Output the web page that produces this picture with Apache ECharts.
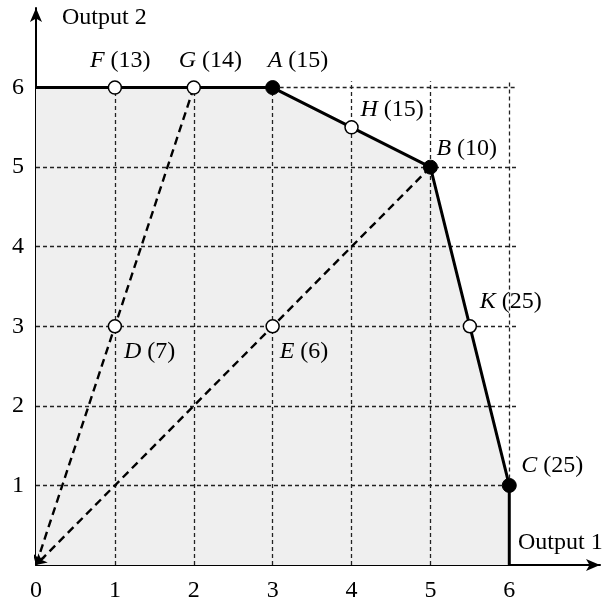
<!DOCTYPE html>
<html>
<head>
<meta charset="utf-8">
<script src="https://cdn.jsdelivr.net/npm/echarts@6/dist/echarts.min.js"></script>
<style>
  html, body { margin: 0; padding: 0; background: #fff; }
  #main { width: 605px; height: 606px; }
</style>
</head>
<body>
<div id="main"></div>
<script>
// frontier of the production set
var frontier = [[0, 6], [3, 6], [5, 5], [6, 1], [6, 0]];

// named points: letter, value in brackets, coordinates, efficient or not
var pointNames  = ['F', 'G', 'A', 'H', 'B', 'K', 'C', 'D', 'E'];
var pointValues = [13, 14, 15, 15, 10, 25, 25, 7, 6];
var pointX      = [1, 2, 3, 4, 5, 5.5, 6, 1, 3];
var pointY      = [6, 6, 6, 5.5, 5, 3, 1, 3, 3];
var pointFilled = [false, false, true, false, true, false, true, false, false];

// rays from the origin
var rays = [[2, 6], [5, 5]];

// tick labels
var xTicks = [0, 1, 2, 3, 4, 5, 6];
var yTicks = [1, 2, 3, 4, 5, 6];
var gridEnd = 6.08;

// label offsets (px) from point centre, left edge / vertical middle of the text
var labelOffsets = {
  F: [-25, -27], G: [-15, -27], A: [-5, -27],
  H: [9, -18], B: [6, -18], K: [10, -25],
  C: [12, -20], D: [9, 25], E: [7, 25]
};

var serif = '"Liberation Serif", "DejaVu Serif", serif';
var fs = 24;

// dashed grid lines, built from the tick lists
var gridLines = [];
xTicks.forEach(function (t) {
  if (t === 0) return;
  var y0 = (t === 6) ? 1 : 0;
  gridLines.push({ coords: [[t, y0], [t, gridEnd]] });
});
yTicks.forEach(function (t) {
  var x0 = (t === 6) ? 3 : 0;
  gridLines.push({ coords: [[x0, t], [gridEnd + 0.02, t]] });
});

var rayLines = rays.map(function (p) {
  return { coords: [p, [0, 0]] };
});

function pointData(filled) {
  var out = [];
  pointNames.forEach(function (n, i) {
    if (pointFilled[i] !== filled) return;
    out.push({
      value: [pointX[i], pointY[i]],
      name: n,
      label: { offset: labelOffsets[n] }
    });
  });
  return out;
}

function labelFmt(p) {
  return '{l|' + p.name + '} (' + pointValues[pointNames.indexOf(p.name)] + ')';
}

var pointLabel = {
  show: true,
  position: 'inside',
  align: 'left',
  verticalAlign: 'middle',
  formatter: labelFmt,
  fontFamily: serif,
  fontSize: fs,
  color: '#000',
  opacity: 1,
  rich: {
    l: { fontFamily: serif, fontStyle: 'italic', fontSize: fs, color: '#000' }
  }
};

var chart = echarts.init(document.getElementById('main'));
chart.setOption({
  animation: false,
  backgroundColor: '#fff',
  grid: { left: 36, right: 5, top: 8, bottom: 41, containLabel: false },
  xAxis: {
    type: 'value', min: 0, max: 7.15, interval: 1,
    axisLine: { show: true, lineStyle: { color: '#000', width: 2 },
      symbol: ['none', 'arrow'], symbolSize: [9, 14] },
    axisTick: { show: false },
    splitLine: { show: false },
    axisLabel: {
      margin: 14, color: '#000', fontFamily: serif, fontSize: fs,
      showMaxLabel: false,
      formatter: function (v) { return xTicks.indexOf(v) >= 0 ? String(v) : ''; }
    }
  },
  yAxis: {
    type: 'value', min: 0, max: 7, interval: 1,
    axisLine: { show: true, lineStyle: { color: '#000', width: 2 },
      symbol: ['none', 'arrow'], symbolSize: [9, 14] },
    axisTick: { show: false },
    splitLine: { show: false },
    axisLabel: {
      margin: 12, color: '#000', fontFamily: serif, fontSize: fs,
      showMaxLabel: false,
      formatter: function (v) { return yTicks.indexOf(v) >= 0 ? String(v) : ''; }
    }
  },
  graphic: [
    { type: 'text', left: 62, top: 6,
      style: { text: 'Output 2', font: fs + 'px ' + serif, fill: '#000' } },
    { type: 'text', left: 518, top: 531,
      style: { text: 'Output 1', font: fs + 'px ' + serif, fill: '#000' } }
  ],
  series: [
    {
      type: 'line', data: frontier, symbol: 'none', z: 1,
      lineStyle: { opacity: 0 },
      areaStyle: { color: '#efefef', opacity: 1 }
    },
    {
      type: 'lines', coordinateSystem: 'cartesian2d', z: 2,
      data: gridLines, symbol: 'none',
      lineStyle: { color: '#222', width: 1.3, type: [4, 3], opacity: 1 }
    },
    {
      type: 'lines', coordinateSystem: 'cartesian2d', z: 3,
      data: rayLines, symbol: ['none', 'arrow'], symbolSize: 10,
      lineStyle: { color: '#000', width: 2.4, type: [8, 5], opacity: 1 }
    },
    {
      type: 'line', data: frontier, symbol: 'none', z: 4,
      lineStyle: { color: '#000', width: 3 }
    },
    {
      type: 'scatter', data: pointData(false), z: 5,
      symbol: 'circle', symbolSize: 13,
      itemStyle: { color: '#fff', borderColor: '#000', borderWidth: 1.5, opacity: 1 },
      label: pointLabel
    },
    {
      type: 'scatter', data: pointData(true), z: 5,
      symbol: 'circle', symbolSize: 14,
      itemStyle: { color: '#000', borderColor: '#000', borderWidth: 1, opacity: 1 },
      label: pointLabel
    }
  ]
});
</script>
</body>
</html>
